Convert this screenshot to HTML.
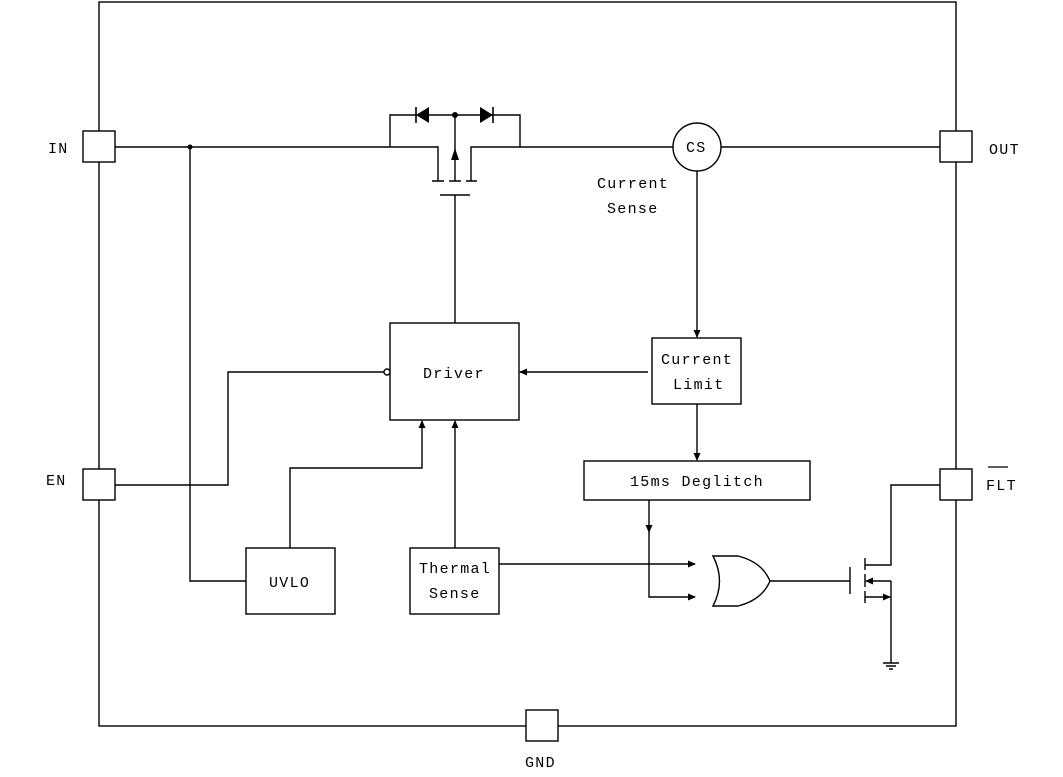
<!DOCTYPE html>
<html><head><meta charset="utf-8"><style>
html,body{margin:0;padding:0;background:#fff}
svg{display:block}
text{font-family:"Liberation Mono","Noto Serif CJK SC",monospace;font-size:15px;letter-spacing:1.3px;fill:#000}
</style></head><body>
<svg width="1063" height="777" viewBox="0 0 1063 777" xmlns="http://www.w3.org/2000/svg">
<defs>
<marker id="a" markerWidth="8" markerHeight="8" refX="7" refY="4" orient="auto" markerUnits="userSpaceOnUse"><path d="M0,0.5 L8,4 L0,7.5 z" fill="#000"/></marker>
</defs>
<g stroke="#000" stroke-width="1.4" fill="none">
<rect x="99" y="2" width="857" height="724"/>
<rect x="83" y="131" width="32" height="31" fill="#fff"/>
<rect x="83" y="469" width="32" height="31" fill="#fff"/>
<rect x="940" y="131" width="32" height="31" fill="#fff"/>
<rect x="940" y="469" width="32" height="31" fill="#fff"/>
<rect x="526" y="710" width="32" height="31" fill="#fff"/>
<path d="M115,147 H438 V181"/>
<path d="M432,181 H444 M449,181 H461 M466,181 H477"/>
<path d="M471,181 V147 H673"/>
<path d="M440,195 H470 M455,195 V323"/>
<path d="M455,181 V150"/>
<path d="M390,147 V115 H520 V147"/>
<path d="M455,115 V150"/>
<circle cx="697" cy="147" r="24"/>
<path d="M721,147 H940"/>
<path d="M697,171 V337" marker-end="url(#a)"/>
<path d="M190,147 V581 H246"/>
<rect x="390" y="323" width="129" height="97"/>
<rect x="652" y="338" width="89" height="66"/>
<rect x="584" y="461" width="226" height="39"/>
<rect x="246" y="548" width="89" height="66"/>
<rect x="410" y="548" width="89" height="66"/>
<path d="M648,372 H520" marker-end="url(#a)"/>
<path d="M697,404 V460" marker-end="url(#a)"/>
<path d="M115,485 H228 V372 H384"/>
<circle cx="387" cy="372" r="3" fill="#fff"/>
<path d="M290,548 V468 H422 V421" marker-end="url(#a)"/>
<path d="M455,548 V421" marker-end="url(#a)"/>
<path d="M499,564 H695" marker-end="url(#a)"/>
<path d="M649,500 V532" marker-end="url(#a)"/>
<path d="M649,532 V597 H695" marker-end="url(#a)"/>
<path d="M713,556 H738 Q762,562 770,581 Q762,600 738,606 H713 Q726,581 713,556 Z"/>
<path d="M770,581 H850 M850,567 V594"/>
<path d="M865,558 V570 M865,574 V587 M865,591 V603"/>
<path d="M865,565 H891 V485 H940"/>
<path d="M891,581 H866" marker-end="url(#a)"/>
<path d="M865,597 H890" marker-end="url(#a)"/>
<path d="M891,581 V663"/>
<path d="M883,663 H899 M886,666 H896 M889,669 H893"/>
<path d="M988,467 H1008" stroke-width="1.2"/>
</g>
<path d="M429,107 L429,123 L416,115 Z" fill="#000"/>
<path d="M416,107 V123" stroke="#000" stroke-width="1.6"/>
<path d="M480,107 L480,123 L493,115 Z" fill="#000"/>
<path d="M493,107 V123" stroke="#000" stroke-width="1.6"/>
<circle cx="455" cy="115" r="3" fill="#000"/>
<path d="M451,160 L459,160 L455,148 Z" fill="#000"/>
<circle cx="190" cy="147" r="2.5" fill="#000"/>
<text x="48" y="153">IN</text>
<text x="46" y="485">EN</text>
<text x="989" y="154">OUT</text>
<text x="986" y="490">FLT</text>
<text x="525" y="767">GND</text>
<text x="686" y="152">CS</text>
<text x="597" y="188">Current</text>
<text x="607" y="213">Sense</text>
<text x="423" y="378">Driver</text>
<text x="661" y="364">Current</text>
<text x="673" y="389">Limit</text>
<text x="630" y="486">15ms Deglitch</text>
<text x="269" y="587">UVLO</text>
<text x="419" y="573">Thermal</text>
<text x="429" y="598">Sense</text>
</svg>
</body></html>
